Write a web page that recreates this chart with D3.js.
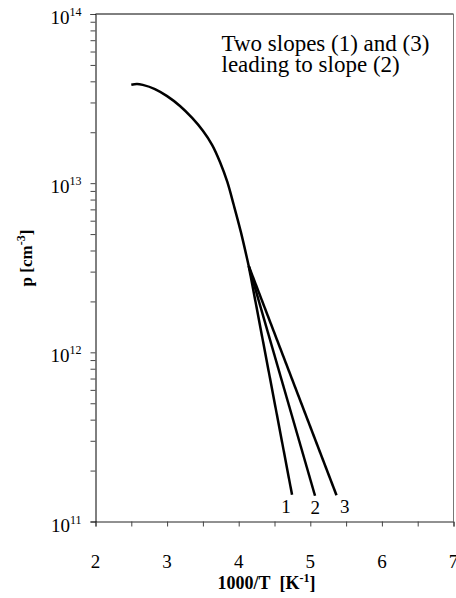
<!DOCTYPE html>
<html>
<head>
<meta charset="utf-8">
<script src="https://cdn.jsdelivr.net/npm/d3@7"></script>
<style>
  body { margin: 0; background: #fff; }
  svg { display: block; }
  text { font-family: "Liberation Serif", "Times New Roman", "DejaVu Serif", serif; }
</style>
</head>
<body>
<script>
// values
var curveX = [2.5, 2.58, 2.66, 2.83, 3.0, 3.18, 3.35, 3.5, 3.63, 3.74, 3.84, 3.93, 4.03, 4.14];
var curveP = [3.82e13, 3.86e13, 3.81e13, 3.60e13, 3.27e13, 2.86e13, 2.43e13, 2.04e13, 1.68e13, 1.33e13, 1.02e13, 7.45e12, 5.15e12, 3.24e12];

var slopeNames = ["1", "2", "3"];
var slopeEndX = [4.745, 5.066, 5.366];
var slopeEndP = [1.44e11, 1.42e11, 1.43e11];
var slopeLabelX = [4.66, 5.07, 5.48];

var xTicks = [2, 3, 4, 5, 6, 7];
var yExps = [11, 12, 13, 14];
var noteLines = ["Two slopes (1) and (3)", "leading to slope (2)"];

function init() {

  var W = 456, H = 598;
  var margin = {top: 14, right: 2.5, bottom: 76.5, left: 95.5};
  var serif = "'Liberation Serif', 'Times New Roman', serif";

  var svg = d3.select("body").append("svg")
    .attr("width", W)
    .attr("height", H);

  var x = d3.scaleLinear()
    .domain([2, 7])
    .range([margin.left, W - margin.right]);

  var y = d3.scaleLog()
    .domain([1e11, 1e14])
    .range([H - margin.bottom, margin.top]);

  // minor ticks: halves on x, 2..9 on each decade of y
  var xAll = d3.range(2, 7.01, 0.5);
  var yAll = [];
  yExps.forEach(function(e) {
    if (e === 14) { yAll.push(1e14); return; }
    for (var m = 1; m < 10; m++) yAll.push(m * Math.pow(10, e));
  });

  // frame (top and right)
  svg.append("line")
    .attr("x1", x(2)).attr("x2", x(7))
    .attr("y1", y(1e14)).attr("y2", y(1e14))
    .attr("stroke", "#000").attr("stroke-width", 1);
  svg.append("line")
    .attr("x1", x(7)).attr("x2", x(7))
    .attr("y1", y(1e14)).attr("y2", y(1e11))
    .attr("stroke", "#777").attr("stroke-width", 1);

  var xAxis = d3.axisBottom(x)
    .tickValues(xAll)
    .tickSize(5)
    .tickFormat("");

  var yAxis = d3.axisLeft(y)
    .tickValues(yAll)
    .tickSize(5)
    .tickFormat("");

  var gx = svg.append("g")
    .attr("transform", "translate(0," + y(1e11) + ")")
    .call(xAxis);
  gx.select(".domain").attr("stroke", "#222");
  gx.selectAll(".tick line").attr("stroke", "#444");

  var gy = svg.append("g")
    .attr("transform", "translate(" + x(2) + ",0)")
    .call(yAxis);
  gy.select(".domain").attr("stroke", "#000");
  gy.selectAll(".tick line").attr("stroke", "#444");

  // x tick labels
  svg.selectAll(".xlab")
    .data(xTicks)
    .enter().append("text")
    .attr("class", "xlab")
    .attr("x", function(d) { return x(d); })
    .attr("y", y(1e11) + 46)
    .attr("text-anchor", "middle")
    .attr("font-family", serif)
    .style("font-size", "19px")
    .text(function(d) { return d; });

  // y tick labels, 10 with exponent
  var yl = svg.selectAll(".ylab")
    .data(yExps)
    .enter().append("text")
    .attr("class", "ylab")
    .attr("x", x(2) - 14)
    .attr("y", function(d) { return y(Math.pow(10, d)) + 10; })
    .attr("text-anchor", "end")
    .attr("font-family", serif)
    .style("font-size", "19px");
  yl.append("tspan").text("10");
  yl.append("tspan")
    .attr("dy", -8)
    .style("font-size", "12px")
    .text(function(d) { return d; });

  // main curve
  var line = d3.line()
    .x(function(d) { return x(d[0]); })
    .y(function(d) { return y(d[1]); })
    .curve(d3.curveCatmullRom.alpha(0.5));

  var pts = curveX.map(function(v, i) { return [v, curveP[i]]; });

  svg.append("path")
    .datum(pts)
    .attr("d", line)
    .attr("fill", "none")
    .attr("stroke", "#000")
    .attr("stroke-width", 2.5);

  // three straight slopes from the end of the curve
  var last = pts[pts.length - 1];
  var straight = d3.line()
    .x(function(d) { return x(d[0]); })
    .y(function(d) { return y(d[1]); });

  slopeNames.forEach(function(n, i) {
    svg.append("path")
      .datum([last, [slopeEndX[i], slopeEndP[i]]])
      .attr("d", straight)
      .attr("fill", "none")
      .attr("stroke", "#000")
      .attr("stroke-width", 2.5);

    svg.append("text")
      .attr("x", x(slopeLabelX[i]))
      .attr("y", y(slopeEndP[i]) + 18)
      .attr("text-anchor", "middle")
      .attr("font-family", serif)
      .style("font-size", "19px")
      .text(n);
  });

  // note
  svg.selectAll(".note")
    .data(noteLines)
    .enter().append("text")
    .attr("class", "note")
    .attr("x", 221.5)
    .attr("y", function(d, i) { return 51 + i * 21; })
    .attr("font-family", serif)
    .style("font-size", "23px")
    .text(function(d) { return d; });

  // axis titles
  var xt = svg.append("text")
    .attr("x", (x(2) + x(7)) / 2 - 8)
    .attr("y", 589)
    .attr("text-anchor", "middle")
    .attr("font-family", serif)
    .style("font-size", "18px")
    .style("font-weight", "bold");
  xt.append("tspan").text("1000/T\u00a0\u00a0[K");
  xt.append("tspan").attr("dy", -7).style("font-size", "12px").text("-1");
  xt.append("tspan").attr("dy", 7).text("]");

  var yt = svg.append("text")
    .attr("transform", "translate(32,258) rotate(-90)")
    .attr("text-anchor", "middle")
    .attr("font-family", serif)
    .style("font-size", "17px")
    .style("font-weight", "bold");
  yt.append("tspan").text("p [cm");
  yt.append("tspan").attr("dy", -7).style("font-size", "12px").text("-3");
  yt.append("tspan").attr("dy", 7).text("]");
}
window.onload = init;
</script>
</body>
</html>
